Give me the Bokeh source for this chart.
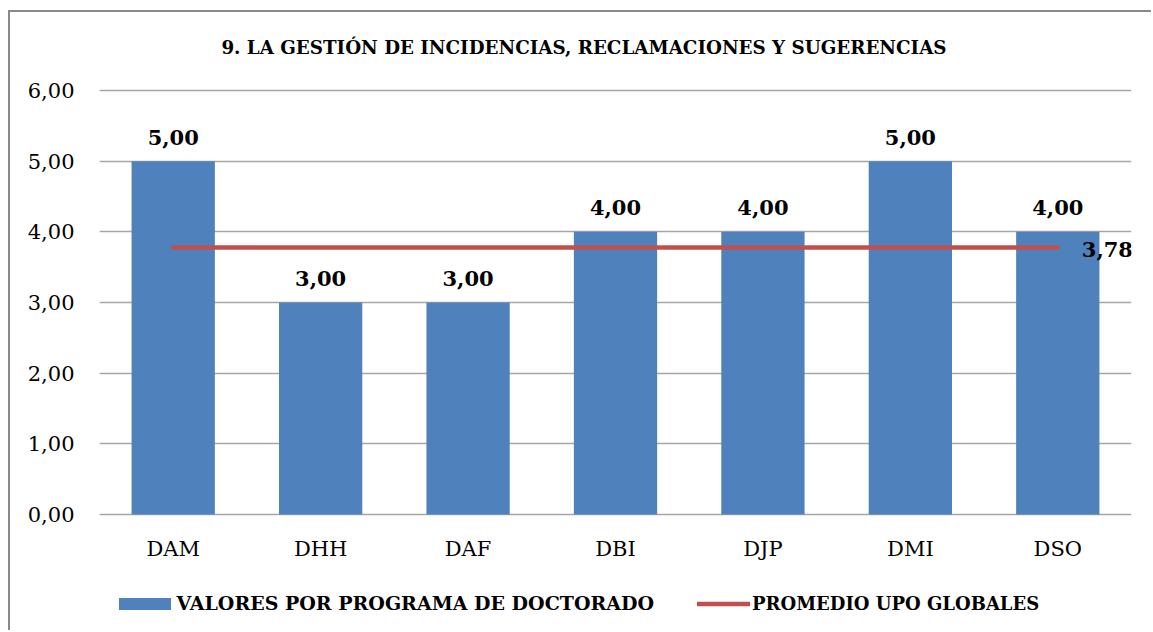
from bokeh.plotting import figure
from bokeh.models import (FactorRange, Range1d, Legend, LegendItem, Label,
                          CustomJSTickFormatter, ColumnDataSource, FixedTicker)
from bokeh.core.properties import value
from bokeh.embed import file_html
from bokeh.resources import INLINE

categories = ["DAM", "DHH", "DAF", "DBI", "DJP", "DMI", "DSO"]
values = [5.00, 3.00, 3.00, 4.00, 4.00, 5.00, 4.00]
average = 3.78
y_ticks = [0, 1, 2, 3, 4, 5, 6]
title_text = "9. LA GESTIÓN DE INCIDENCIAS, RECLAMACIONES Y SUGERENCIAS"
series_bar = "VALORES POR PROGRAMA DE DOCTORADO"
series_line = "PROMEDIO UPO GLOBALES"

FONT = "DejaVu Serif"
BLUE = "#4F81BD"
RED = "#C0504D"
GRID = "#A6A6A6"


def fmt(v):
    return f"{v:.2f}".replace(".", ",")


# y range extended below 0 / above 6 so that the category labels, the legend
# and the title live inside the frame (value axis still shows 0..6 only)
p = figure(width=1143, height=620,
           x_range=FactorRange(*categories, range_padding=0),
           y_range=Range1d(-1.6415, 7.0755),
           output_backend="svg", toolbar_location=None,
           min_border_left=89, min_border_right=22,
           min_border_top=2, min_border_bottom=2)
p.styles = {"border-left": "2px solid #898989", "border-top": "2px solid #898989",
            "margin-left": "8px", "margin-top": "10px"}
p.outline_line_color = None
p.background_fill_color = "white"
p.border_fill_color = "white"

p.xaxis.visible = False
p.xgrid.grid_line_color = None
p.ygrid.ticker = FixedTicker(ticks=y_ticks)
p.ygrid.grid_line_color = GRID
p.ygrid.grid_line_width = 1.5

p.yaxis.ticker = FixedTicker(ticks=y_ticks)
p.yaxis.formatter = CustomJSTickFormatter(code="return tick.toFixed(2).replace('.', ',');")
p.yaxis.axis_line_color = None
p.yaxis.major_tick_line_color = None
p.yaxis.minor_tick_line_color = None
p.yaxis.major_label_standoff = 19
p.yaxis.major_label_text_font = FONT
p.yaxis.major_label_text_font_size = "21px"
p.yaxis.major_label_text_color = "black"

src = ColumnDataSource(dict(cat=categories, val=values, base=[0] * len(categories),
                            lab=[fmt(v) for v in values]))
bars = p.vbar(x="cat", top="val", bottom="base", width=0.565, source=src,
              fill_color=BLUE, line_color=None)
p.text(x="cat", y="val", text="lab", source=src, text_align="center",
       text_baseline="alphabetic", y_offset=-24, text_font=value(FONT),
       text_font_style="bold", text_font_size="21px", text_color="black")
# category axis labels
p.text(x="cat", y="base", text="cat", source=src, text_align="center",
       text_baseline="alphabetic", y_offset=34, text_font=value(FONT),
       text_font_size="21px", text_color="black")

avg_line = p.line(x=[categories[0], categories[-1]], y=[average, average],
                  line_color=RED, line_width=4.5, line_cap="round")
p.text(x=[categories[-1]], y=[average], text=[fmt(average)], x_offset=24, y_offset=2,
       text_align="left", text_baseline="alphabetic", text_font=value(FONT),
       text_font_style="bold", text_font_size="21px", text_color="black")

title = Label(x=3.286, y=6.6085, text=title_text, text_align="center",
              text_baseline="alphabetic", text_font=FONT, text_font_style="bold",
              text_font_size="18.3px", text_color="black")
p.add_layout(title)

common = dict(label_text_font=FONT, label_text_font_style="bold",
              label_text_color="black", label_text_baseline="middle",
              padding=0, margin=0, border_line_color=None,
              background_fill_alpha=0, orientation="horizontal")
leg1 = Legend(items=[LegendItem(label=series_bar, renderers=[bars])],
              location=(12.5, 16), glyph_width=65, glyph_height=15,
              label_standoff=0, label_text_font_size="19px", **common)
leg2 = Legend(items=[LegendItem(label=series_line, renderers=[avg_line])],
              location=(598, 16), glyph_width=53, glyph_height=15,
              label_standoff=2, label_text_font_size="18px", **common)
p.add_layout(leg1)
p.add_layout(leg2)

open("out.html", "w").write(file_html(p, INLINE))
